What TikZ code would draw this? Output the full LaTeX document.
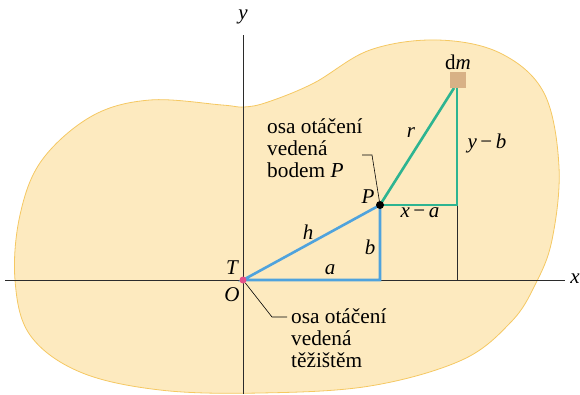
\documentclass[tikz,border=0pt]{standalone}
\usepackage{fontspec}
\setmainfont{Liberation Serif}
\newfontfamily\tms{Liberation Serif}
\begin{document}
\begin{tikzpicture}[x=1pt,y=-1pt,
  blobstyle/.style={fill=blobfill,draw=blobedge,line width=0.8pt},
  axis/.style={draw=axiscol,line width=1pt},
  bluel/.style={draw=lineblue,line width=2.6pt,line join=miter},
  greenl/.style={draw=linegreen,line width=2.6pt,line join=miter},
  lbl/.style={font=\tms\fontsize{21}{22}\selectfont\itshape,inner sep=0pt},
  txt/.style={font=\tms\fontsize{21.3}{22}\selectfont,align=left,inner sep=0pt,anchor=north west},
  leader/.style={draw=black,line width=0.6pt}]
\definecolor{blobfill}{HTML}{FDEABF}
\definecolor{blobedge}{HTML}{F5C862}
\definecolor{lineblue}{HTML}{4FA3DD}
\definecolor{linegreen}{HTML}{2DB491}
\definecolor{axiscol}{HTML}{2B2B2B}
\definecolor{dmcol}{HTML}{D8B186}
\definecolor{pinkdot}{HTML}{E5508A}
\useasboundingbox (0,0) rectangle (580,394);
% blob
\draw[blobstyle] plot[smooth cycle,tension=0.6] coordinates {
 (15,280) (20,215) (42,160) (92,116) (150,100) (222,105) (244,107) (268,102)
 (314,83) (370,50) (437,40) (500,53) (544,93) (559,167) (552,240) (535,285)
 (511,322) (462,360) (370,386) (260,393) (160,390) (80,372) (30,335)};
% points
\coordinate (O) at (243,280);
\coordinate (P) at (380,205);
\coordinate (Pb) at (380,280);
\coordinate (Q) at (457,205);
\coordinate (Qb) at (457,280);
\coordinate (M) at (457,88);
\coordinate (Mdiag) at (454,88);
\coordinate (xl) at (5,280);
\coordinate (xr) at (565,280);
\coordinate (yt) at (243,35);
\coordinate (yb) at (243,394);
% axes
\draw[axis] (xl) -- (xr);
\draw[axis] (yt) -- (yb);
\draw[axis] (Q) -- (Qb);
% triangles
\draw[bluel] (P) -- (O) -- (Pb) -- (P);
\draw[greenl] (P) -- (Q) -- (M);
\draw[greenl] (P) -- (Mdiag);
% dm square
\node[fill=dmcol,minimum size=16pt,inner sep=0pt] (dm) at (458,80) {};
% dots
\node[circle,fill=pinkdot,minimum size=7pt,inner sep=0pt] (Od) at (O) {};
\node[circle,fill=black,minimum size=8pt,inner sep=0pt] (Pd) at (P) {};
% labels
\node[lbl] (ylab) at (243,17) {y};
\node[lbl] (xlab) at (575,279) {x};
\node[lbl] (Tlab) at (232,268) {T};
\node[lbl] (Olab) at (232,295) {O};
\node[lbl] (alab) at (330,270) {a};
\node[lbl] (blab) at (370,247) {b};
\node[lbl] (hlab) at (308,232) {h};
\node[lbl] (Plab) at (368,197) {P};
\node[lbl] (rlab) at (411,133) {r};
\node[lbl] (yblab) at (487,143) {y\,\upshape−\,\itshape b};
\node[lbl] (xalab) at (420,213) {x\,\upshape−\,\itshape a};
\node[lbl] (dmlab) at (458,62) {\upshape d\itshape m};
% texts
\node[txt] (tP) at (267,118) {osa otáčení\\vedená\\bodem \textit{P}};
\node[txt] (tT) at (291,308) {osa otáčení\\vedená\\těžištěm};
% leaders
\coordinate (lp1) at (362,155);
\coordinate (lp2) at (372,155);
\draw[leader] (lp1) -- (lp2) -- (Pd);
\coordinate (lt1) at (272,317);
\coordinate (lt2) at (287,317);
\draw[leader] (Od) -- (lt1) -- (lt2);
\end{tikzpicture}
\end{document}
